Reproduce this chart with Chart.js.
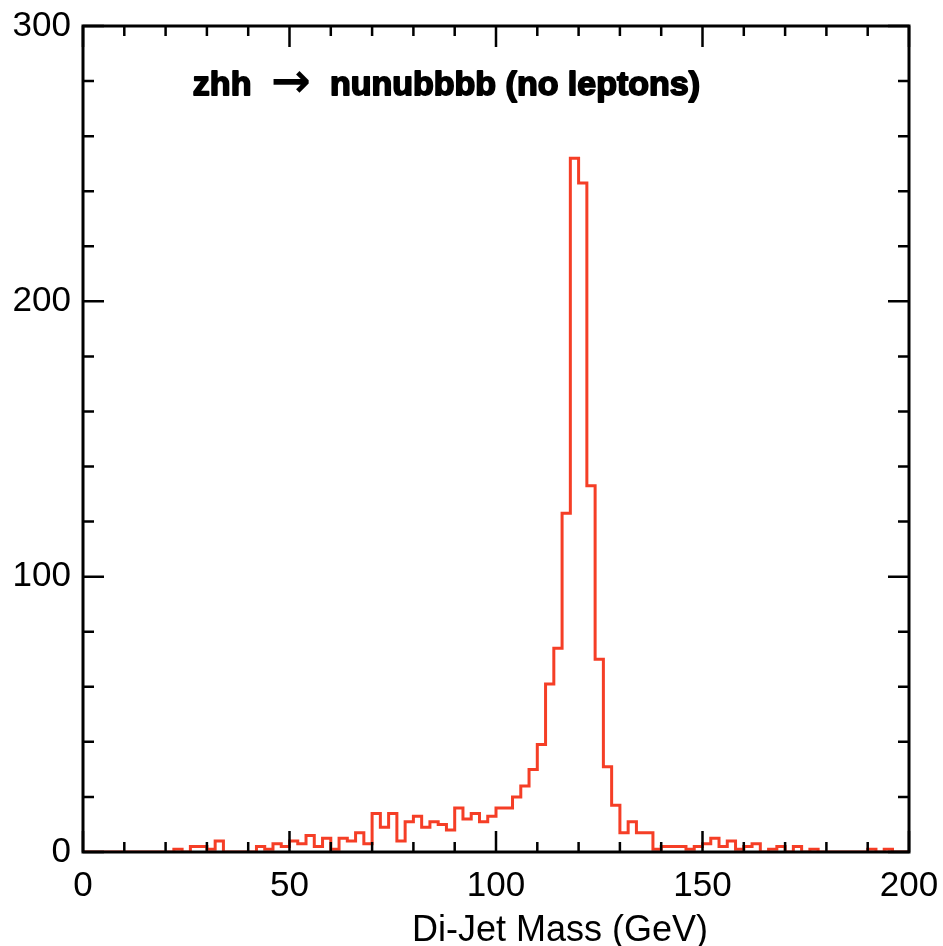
<!DOCTYPE html>
<html>
<head>
<meta charset="utf-8">
<script src="https://cdn.jsdelivr.net/npm/chart.js@4.4.1/dist/chart.umd.min.js"></script>
<style>
html,body{margin:0;padding:0;background:#fff;}
#wrap{width:943px;height:946px;position:relative;}
</style>
</head>
<body>
<div id="wrap"><canvas id="c"></canvas></div>
<script>
// ---- data ----
const binStart = 0;      // GeV, left edge of first bin
const binWidth = 2;      // GeV
const counts = [
  0,0,0,0,0,0,0,0,0,0,
  0,1,0,2,2,1,4,0,0,0,
  0,2,1,3,2,4,3,6,2,5,
  1,5,4,7,3,14,9,14,4,11,
  13,9,11,10,8,16,12,14,11,13,
  16,16,20,24,30,39,61,74,123,252,
  243,133,70,31,17,7,11,7,7,1,
  2,2,2,1,2,3,5,2,4,1,
  2,3,0,1,2,0,2,0,1,0,
  0,0,0,0,0,1,0,1,0,0
];
const xTickValues = [0, 50, 100, 150, 200];
const yTickValues = [0, 100, 200, 300];
const titleLeft = 'zhh';
const titleArrow = '\u2192';
const titleRight = 'nunubbbb (no leptons)';
const xAxisTitle = 'Di-Jet Mass (GeV)';

// histogram outline points built from the bins
const points = [];
counts.forEach((v, i) => {
  points.push({x: binStart + i * binWidth, y: v});
  points.push({x: binStart + (i + 1) * binWidth, y: v});
});

const frame = {
  id: 'frame',
  afterDatasetsDraw(chart) {
    const {ctx, chartArea: a, scales: {x, y}} = chart;
    ctx.save();
    ctx.strokeStyle = '#000';
    ctx.lineWidth = 3;
    ctx.strokeRect(a.left, a.top, a.right - a.left, a.bottom - a.top);
    ctx.lineWidth = 2.5;
    ctx.beginPath();
    for (let v = x.min; v <= x.max; v += 10) {
      const px = x.getPixelForValue(v);
      const len = (v % 50 === 0) ? 21 : 10;
      ctx.moveTo(px, a.bottom); ctx.lineTo(px, a.bottom - len);
      ctx.moveTo(px, a.top); ctx.lineTo(px, a.top + len);
    }
    for (let v = y.min; v <= y.max; v += 20) {
      const py = y.getPixelForValue(v);
      const len = (v % 100 === 0) ? 21 : 11;
      ctx.moveTo(a.left, py); ctx.lineTo(a.left + len, py);
      ctx.moveTo(a.right, py); ctx.lineTo(a.right - len, py);
    }
    ctx.stroke();

    // title inside the plot
    const ty = y.getPixelForValue(275);
    ctx.fillStyle = '#000';
    ctx.strokeStyle = '#000';
    ctx.lineJoin = 'round';
    ctx.textBaseline = 'alphabetic';
    ctx.textAlign = 'left';
    ctx.font = 'bold 34px "Liberation Sans"';
    ctx.lineWidth = 1.8;
    const x1 = x.getPixelForValue(26.6);
    ctx.fillText(titleLeft, x1, ty); ctx.strokeText(titleLeft, x1, ty);
    const x3 = x.getPixelForValue(59.8);
    ctx.fillText(titleRight, x3, ty); ctx.strokeText(titleRight, x3, ty);
    ctx.font = 'bold 48px "DejaVu Sans"';
    ctx.textAlign = 'center';
    ctx.fillText(titleArrow, x.getPixelForValue(50.3), ty + 2);

    // x axis title
    ctx.font = '36px "Liberation Sans"';
    ctx.textAlign = 'center';
    ctx.fillText(xAxisTitle, x.getPixelForValue(115.5), 941);
    ctx.restore();
  }
};

new Chart(document.getElementById('c'), {
  type: 'line',
  data: {
    datasets: [{
      data: points,
      borderColor: 'rgb(245,62,38)',
      borderWidth: 3,
      pointRadius: 0,
      fill: false,
      tension: 0
    }]
  },
  options: {
    responsive: true,
    maintainAspectRatio: false,
    animation: false,
    layout: {padding: {left: 0, top: 26, right: 34, bottom: 0}},
    plugins: {legend: {display: false}, tooltip: {enabled: false}},
    scales: {
      x: {
        type: 'linear', min: 0, max: 200,
        grid: {display: false, drawTicks: false},
        border: {display: false},
        afterBuildTicks: s => { s.ticks = xTickValues.map(v => ({value: v})); },
        ticks: {autoSkip: false, maxRotation: 0, padding: 13, color: '#000',
                font: {family: '"Liberation Sans"', size: 35}},
        afterFit: s => { s.height = 94; s.paddingLeft = 0; s.paddingRight = 0; }
      },
      y: {
        min: 0, max: 300,
        grid: {display: false, drawTicks: false},
        border: {display: false},
        afterBuildTicks: s => { s.ticks = yTickValues.map(v => ({value: v})); },
        ticks: {padding: 12, color: '#000',
                font: {family: '"Liberation Sans"', size: 35}},
        afterFit: s => { s.width = 83; s.paddingTop = 0; s.paddingBottom = 0; }
      }
    }
  },
  plugins: [frame]
});
</script>
</body>
</html>
